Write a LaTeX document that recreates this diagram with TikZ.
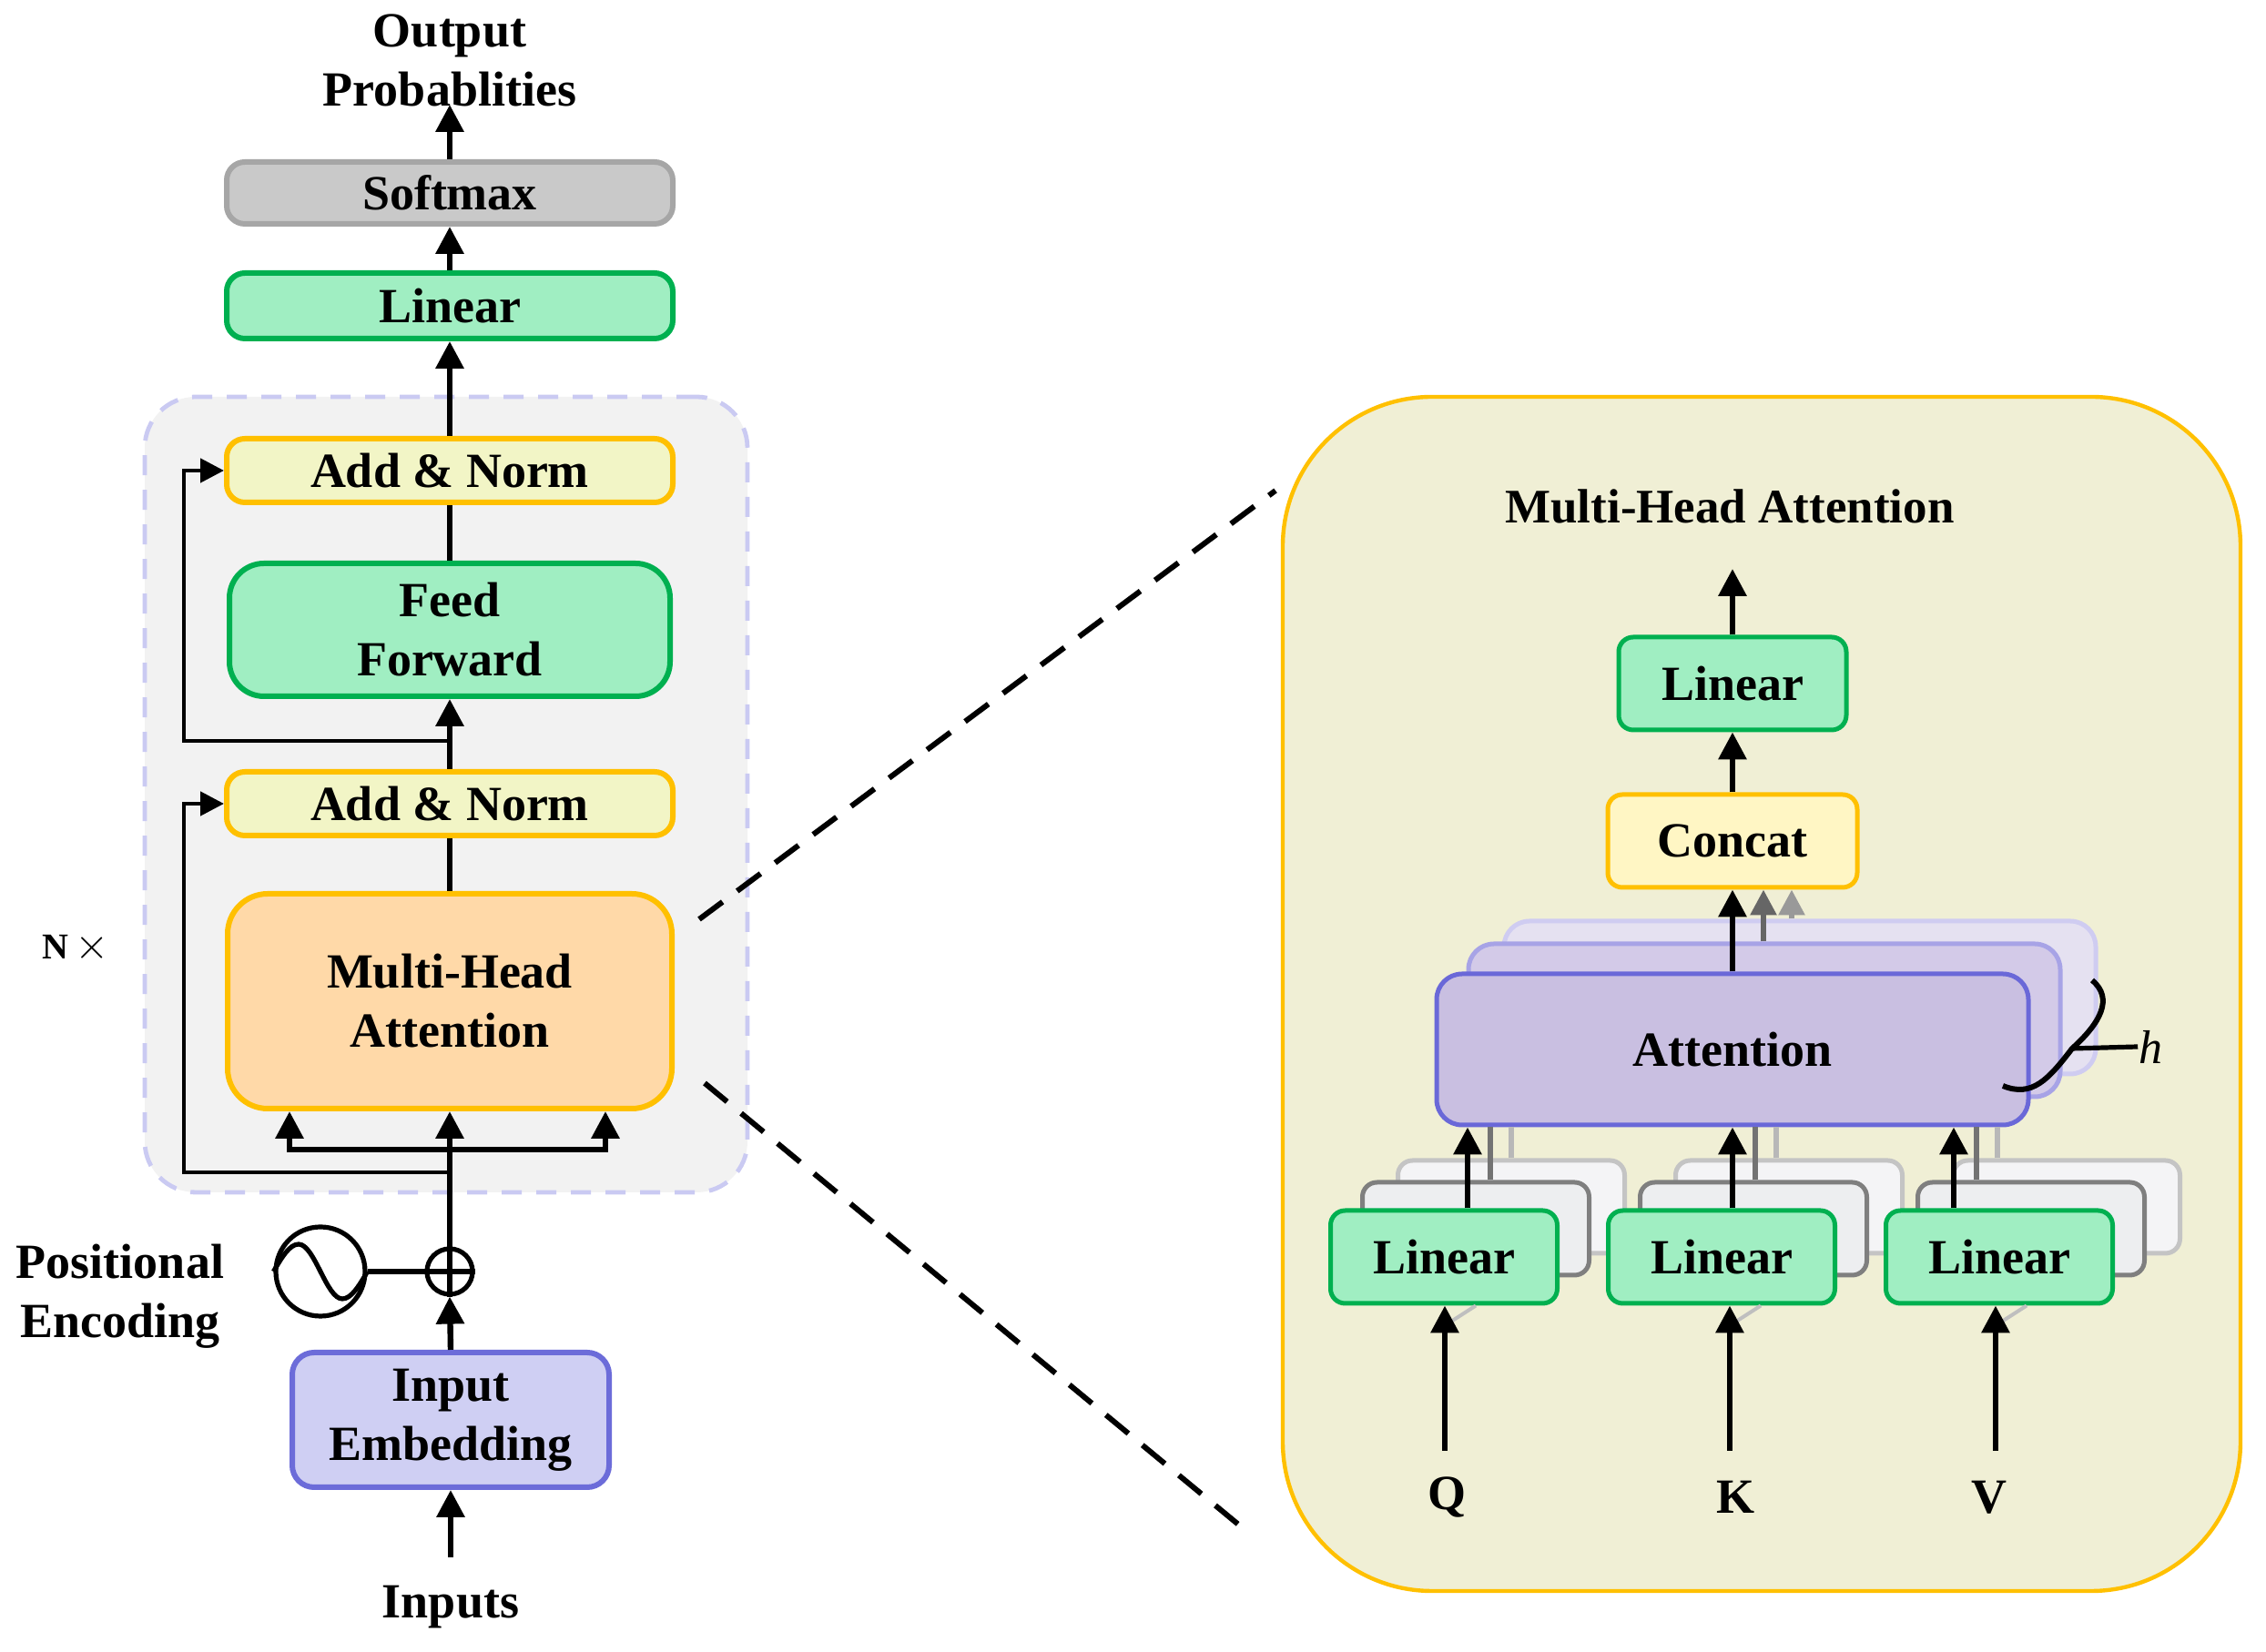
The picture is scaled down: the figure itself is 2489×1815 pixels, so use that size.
\documentclass[tikz,border=0pt]{standalone}
\usepackage{fontspec}
\setmainfont{Liberation Serif}
\usetikzlibrary{arrows.meta,calc}
\definecolor{softF}{HTML}{C9C9C9}
\definecolor{softB}{HTML}{A6A6A6}
\definecolor{grnF}{HTML}{A0EEC2}
\definecolor{grnB}{HTML}{00B050}
\definecolor{anF}{HTML}{F2F5C6}
\definecolor{orgB}{HTML}{FFC000}
\definecolor{mhaF}{HTML}{FFD9A8}
\definecolor{ieF}{HTML}{CFCFF3}
\definecolor{ieB}{HTML}{6C6CD9}
\definecolor{encF}{HTML}{F2F2F2}
\definecolor{encB}{HTML}{CACAF2}
\definecolor{panF}{HTML}{F0EFD5}
\definecolor{conF}{HTML}{FFF6C4}
\definecolor{attF}{HTML}{C9BFE1}
\definecolor{attB}{HTML}{6A68D8}
\definecolor{attMF}{HTML}{D3CAE8}
\definecolor{attMB}{HTML}{A7A3E6}
\definecolor{attBF}{HTML}{E5E1F1}
\definecolor{attBB}{HTML}{CFCCF1}
\definecolor{linMF}{HTML}{EDEEF0}
\definecolor{linMB}{HTML}{7F7F7F}
\definecolor{linBF}{HTML}{F4F4F6}
\definecolor{linBB}{HTML}{C4C4C4}
\begin{document}
\begin{tikzpicture}[x=0.25pt,y=-0.25pt,
  every node/.style={font=\bfseries\fontsize{13.5pt}{16.25pt}\selectfont, inner sep=0pt, align=center},
  blk/.style={draw, rounded corners=5pt, line width=1.5pt},
  rblk/.style={draw, rounded corners=4pt, line width=1.25pt, font=\bfseries\fontsize{13.5pt}{15pt}\selectfont},
  arr/.style={line width=1.6pt, -{Triangle[length=7.5pt,width=7.5pt]}},
  arrtwo/.style={line width=1.6pt, {Triangle[length=7.5pt,width=7.5pt]}-{Triangle[length=7.5pt,width=7.5pt]}},
  ln/.style={line width=1.6pt},
  res/.style={line width=1.2pt, -{Triangle[length=6.5pt,width=6.5pt]}},
  zoomline/.style={line width=1.5pt, dash pattern=on 8pt off 5pt},
  thin/.style={line width=1.3pt},
]
\useasboundingbox (0,0) rectangle (2489,1815);
\fill[white] (0,0) rectangle (2489,1815);

% ---------------- left column ----------------
\node[draw=encB, fill=encF, dash pattern=on 5.5pt off 4pt, line width=1.2pt, rounded corners=14pt,
      minimum width=165.5pt, minimum height=218.5pt] (enc) at (490,873) {};

\node (out) at (494,66) {Output\\Probablities};
\node[blk, draw=softB, fill=softF, minimum width=122.5pt, minimum height=17pt] (soft) at (494,212) {Softmax};
\node[blk, draw=grnB, fill=grnF, minimum width=122.5pt, minimum height=18pt] (linl) at (494,336) {Linear};
\node[blk, draw=orgB, fill=anF, minimum width=122.5pt, minimum height=17.5pt] (an1) at (494,517) {Add \& Norm};
\node[blk, draw=grnB, fill=grnF, rounded corners=9.5pt, minimum width=121pt, minimum height=36.5pt] (ff) at (494,692) {Feed\\Forward};
\node[blk, draw=orgB, fill=anF, minimum width=122.5pt, minimum height=17.5pt] (an2) at (494,883) {Add \& Norm};
\node[blk, draw=orgB, fill=mhaF, rounded corners=11pt, minimum width=122pt, minimum height=59pt] (mha) at (494,1100) {Multi-Head\\Attention};
\node[blk, draw=ieB, fill=ieF, rounded corners=6pt, minimum width=87pt, minimum height=37pt] (ie) at (495,1560) {Input\\Embedding};
\node (inputs) at (495,1766) {Inputs};
\node (pos) at (132,1424) {Positional\\Encoding};
\node[font=\fontsize{10pt}{12pt}\selectfont] (nx) at (83,1042) {\textbf{N}\,{\fontsize{13pt}{14pt}\selectfont$\times$}};

\node[circle, draw, line width=1.3pt, minimum size=12.5pt] (plus) at (494,1397) {};
\draw[thin] (plus.north) -- (plus.south) (plus.west) -- (plus.east);
\node[circle, draw, line width=1.3pt, minimum size=24.5pt] (pe) at (352,1397) {};
\draw[thin] (pe.west) sin ($(pe.center)+(-24,-30)$) cos (pe.center) sin ($(pe.center)+(24,30)$) cos (pe.east);
\draw[thin] (pe.east) -- (plus.west);

\coordinate (inbot) at (495,1711);
\draw[arr] (inbot) -- (ie.south);
\draw[arr] (ie.north) -- (plus.south);
\draw[arr] (plus.north) -- (mha.south);
\coordinate (bl) at (318,1263);
\coordinate (brr) at (665,1263);
\draw[arrtwo] (bl |- mha.south) -- (bl) -- (brr) -- (brr |- mha.south);

\coordinate (rl) at (202,0);
\coordinate (r2) at (494,1288);
\coordinate (r1) at (494,814);
\draw[res] (r2) -- (rl |- r2) -- (rl |- an2.west) -- (an2.west);
\draw[res] (r1) -- (rl |- r1) -- (rl |- an1.west) -- (an1.west);

\draw[ln] (mha.north) -- (an2.south);
\draw[arr] (an2.north) -- (ff.south);
\draw[ln] (ff.north) -- (an1.south);
\draw[arr] (an1.north) -- (linl.south);
\draw[arr] (linl.north) -- (soft.south);
\draw[arr] (soft.north) -- ++(0,-60);

% ---------------- zoom lines ----------------
\coordinate (d1a) at (768,1010);
\coordinate (d1b) at (1401,539);
\coordinate (d2a) at (774,1190);
\coordinate (d2b) at (1364,1678);
\draw[zoomline] (d1a) -- (d1b);
\draw[zoomline] (d2a) -- (d2b);

% ---------------- right panel ----------------
\node[draw=orgB, fill=panF, line width=1.1pt, rounded corners=41pt, minimum width=263pt, minimum height=328pt] (panel) at (1935,1092) {};
\node[font=\bfseries\fontsize{13.25pt}{15pt}\selectfont] (title) at (1900,556) {Multi-Head Attention};
\node[rblk, draw=grnB, fill=grnF, minimum width=62.5pt, minimum height=25.5pt] (rlin) at (1903,751) {Linear};
\node[rblk, draw=orgB, fill=conF, minimum width=68.5pt, minimum height=25.5pt] (concat) at (1903,924) {Concat};
\coordinate (toptip) at (1903,625);
\draw[arr] (rlin.north) -- (toptip);
\draw[arr] (concat.north) -- (rlin.south);

% attention stack
\node[rblk, draw=attBB, fill=attBF, rounded corners=7pt, minimum width=162.5pt, minimum height=42pt] (attb) at (1977,1096) {};
\node[rblk, draw=attMB, fill=attMF, rounded corners=7pt, minimum width=162.5pt, minimum height=42pt] (attm) at (1938,1121) {};
\node[rblk, draw=attB, fill=attF, rounded corners=7pt, minimum width=162.5pt, minimum height=41.5pt] (att) at (1903,1153) {Attention};
\coordinate (xa1) at (1903,0);
\coordinate (xa2) at (1937,0);
\coordinate (xa3) at (1968,0);
\draw[line width=1.5pt, draw=black!40, -{Triangle[length=7pt,width=7pt]}] (xa3 |- attb.north) -- (xa3 |- concat.south);
\draw[line width=1.5pt, draw=black!60, -{Triangle[length=7pt,width=7pt]}] (xa2 |- attm.north) -- (xa2 |- concat.south);
\draw[arr] (att.north) -- (concat.south);

% brace and h
\coordinate (bt) at (2298,1077);
\coordinate (bm) at (2276,1152);
\coordinate (bb) at (2200,1193);
\draw[line width=1.5pt] (bt) .. controls (2322,1097) and (2307,1124) .. (bm) .. controls (2250,1186) and (2232,1206) .. (bb);
\node[font=\itshape\fontsize{13pt}{14pt}\selectfont] (h) at (2362,1150) {h};
\draw[line width=1.3pt] (bm) -- (h.west);

% linear stacks
\foreach \n/\cx in {q/1586, k/1891, v/2196}{
  \node[rblk, draw=linBB, fill=linBF, minimum width=62.25pt, minimum height=25.5pt] (\n b) at (\cx+74,1326) {};
  \node[rblk, draw=linMB, fill=linMF, minimum width=62.25pt, minimum height=25.5pt] (\n m) at (\cx+35,1350) {};
}
\foreach \n/\cx/\ax/\ix in {q/1586/1612/1587, k/1891/1903/1900, v/2196/2146/2192}{
  \coordinate (\n x1) at (\ax,0);
  \coordinate (\n x2) at (\ax+25,0);
  \coordinate (\n x3) at (\ax+48,0);
  \coordinate (\n in) at (\ix,1594);
  \draw[line width=1.3pt, draw=black!28] (\n x3 |- \n b.north) -- (\n x3 |- att.south);
  \draw[line width=1.3pt, draw=black!55] (\n x2 |- \n m.north) -- (\n x2 |- att.south);
  \node[rblk, draw=grnB, fill=grnF, minimum width=62.25pt, minimum height=25.5pt] (\n f) at (\cx,1381) {Linear};
  \draw[arr] (\n x1 |- \n f.north) -- (\n x1 |- att.south);
  \draw[line width=1pt, draw=black!25] ($(\n in |- \n f.south)+(6,18)$) -- ($(\n in |- \n f.south)+(34,0)$);
  \draw[arr] (\n in) -- (\n in |- \n f.south);
}
\node[font=\bfseries\fontsize{13.5pt}{15pt}\selectfont] (ql) at (1589,1645) {Q};
\node[font=\bfseries\fontsize{13.5pt}{15pt}\selectfont] (kl) at (1906,1645) {K};
\node[font=\bfseries\fontsize{13.5pt}{15pt}\selectfont] (vl) at (2185,1645) {V};
\end{tikzpicture}
\end{document}
